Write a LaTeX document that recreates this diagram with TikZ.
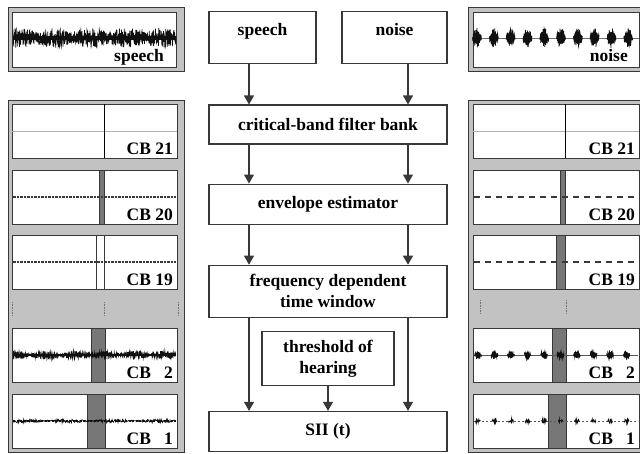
\documentclass[tikz,border=0pt]{standalone}
\usepackage{fontspec}
\setmainfont{Liberation Serif}
\usepackage{tikz}
\usetikzlibrary{arrows.meta,positioning}
\definecolor{edge}{HTML}{383838}
\definecolor{panelgray}{HTML}{C2C2C2}
\definecolor{winfill}{HTML}{777777}
\definecolor{trace}{HTML}{101010}
\tikzset{block/.style={draw=edge,line width=1.1pt,fill=white,inner sep=0pt,align=center,font=\fontsize{17.5}{21}\selectfont\bfseries},
  toplab/.style={anchor=north,inner sep=0pt,yshift=-12pt,font=\fontsize{17.5}{21}\selectfont\bfseries},
  arr/.style={-{Triangle[length=9pt,width=10pt]},line width=1.1pt,draw=edge},
  frame/.style={fill=panelgray,draw=edge,line width=0.8pt},
  panel/.style={fill=white,draw=edge,line width=0.8pt},
  winbar/.style={fill=winfill,draw=edge,line width=0.6pt},
  cblab/.style={anchor=base east,inner sep=0pt,font=\fontsize{17.5}{21}\selectfont\bfseries},
  wave/.style={trace,line width=0.7pt},
  gap/.style={edge!70,line width=0.6pt,dash pattern=on 0.8pt off 0.8pt}}

\begin{document}
\begin{tikzpicture}[x=1pt,y=-1pt]
\useasboundingbox (0,0) rectangle (640,453);
\pgfmathsetseed{4711}
% signal frames
\foreach \ox in {8,468} {
  \draw[frame] (\ox,7) rectangle ++(176,64);
  \draw[frame] (\ox,100) rectangle ++(176,352);
}
\draw[panel] (12,12) rectangle (176,67);
\draw[panel] (473,12) rectangle (639,67);
% top left: speech
\draw[wave] plot[domain=13:176,samples=700] (\x,{38+(6+4*abs(sin(\x*5)))*rand});
\draw[trace,line width=4pt] (13,38) -- (176,38);
\node[cblab] (speechlab) at (164,61) {speech};
% top right: noise
\draw[trace!60,line width=0.5pt] (473,38) -- (639,38);
\foreach \c in {477,493.8,...,630} {
  \draw[wave] plot[domain=\c-4.5:\c+4.5,samples=60] (\x,{38+10*(1-((\x-\c)/5)^2)*rand});
  \fill[trace] (\c,38) ellipse (3.5pt and 6pt);
}
\node[cblab] (noiselab) at (628,61) {noise};
% critical band panels, left (speech) and right (noise)
\foreach \top/\lbar/\rbar/\cb in {104/104/565/21,170/99/560/20,235/96/556/19,328/91/552/2,394/87/548/1} {
  \draw[panel] (12,\top) rectangle (177,\top+54);
  \draw[panel] (473,\top) rectangle (639,\top+54);
  \ifnum\cb=1\relax \def\cbtxt{CB \phantom{2}1}\else\ifnum\cb=2\relax \def\cbtxt{CB \phantom{2}2}\else \def\cbtxt{CB \cb}\fi\fi
  \node[cblab] at (173,\top+50) {\cbtxt};
  \node[cblab] at (635,\top+50) {\cbtxt};
}
% CB 21
\draw[gray!60,line width=0.6pt] (12,131) -- (177,131) (473,131) -- (639,131);
\draw[black,line width=1pt] (104,104) -- (104,158) (565,104) -- (565,158);
% CB 20 and CB 19
\draw[winbar] (99,170) rectangle (104,224);
\draw[winbar] (560,170) rectangle (565,224);
\draw[panel,line width=0.7pt] (96,235) rectangle (104,289);
\draw[winbar] (556,235) rectangle (565,289);
\foreach \cy in {197,262} {
  \draw[edge,line width=1.1pt,dash pattern=on 2.5pt off 1pt] (13,\cy) -- (176,\cy);
  \draw[edge,line width=1.2pt,dash pattern=on 6pt off 5pt] (474,\cy) -- (638,\cy);
}
% band gap
\foreach \gx/\gy in {12/302,104/302,178/302,480/300,566/300} {
  \draw[gap] (\gx,\gy) -- ++(0,13);
}
% CB 2
\draw[winbar] (91,328) rectangle (105,382);
\draw[winbar] (552,328) rectangle (566,382);
\draw[trace,line width=1.3pt] (13,355) -- (176,355);
\draw[wave] plot[domain=13:176,samples=600] (\x,{355+(1+3.5*abs(sin(\x*6)))*rand});
\draw[trace!70,line width=0.6pt] (474,355) -- (638,355);
\foreach \c in {478,494.5,...,636} {
  \draw[wave] plot[domain=\c-3.5:\c+3.5,samples=30] (\x,{355+5*(1-((\x-\c)/4)^2)*rand});
  \fill[trace] (\c,355) ellipse (2.5pt and 3pt);
}
% CB 1
\draw[winbar] (87,394) rectangle (105,448);
\draw[winbar] (548,394) rectangle (566,448);
\draw[trace,line width=1.4pt,dash pattern=on 2pt off 1.5pt] (13,421) -- (176,421);
\draw[wave] plot[domain=13:176,samples=330] (\x,{421+(0.5+1.5*abs(sin(\x*4)))*rand});
\draw[trace!70,line width=0.6pt,dash pattern=on 2pt off 2pt] (474,421) -- (638,421);
\foreach \c in {478,494.5,...,636} {
  \draw[wave] plot[domain=\c-2.5:\c+2.5,samples=16] (\x,{421+2.5*(1-((\x-\c)/3)^2)*rand});
}
% processing chain
\node[block,minimum width=238pt,minimum height=39pt] (filter) at (328,124.5) {critical-band filter bank};
\node[block,minimum width=107pt,minimum height=52pt,above=40pt of filter.north west,anchor=south west,label={[toplab]north:speech}] (speech) {};
\node[block,minimum width=105pt,minimum height=52pt,above=40pt of filter.north east,anchor=south east,label={[toplab]north:noise}] (noise) {};
\node[block,minimum width=238pt,minimum height=40pt,below=39pt of filter] (envelope) {envelope estimator};
\node[block,minimum width=238pt,minimum height=52pt,below=40pt of envelope] (window) {frequency dependent\\time window};
\node[block,minimum width=132pt,minimum height=54pt,below=13pt of window] (threshold) {threshold of\\hearing};
\node[block,minimum width=238pt,minimum height=40pt,below=25pt of threshold] (sii) {SII (t)};
\coordinate (colL) at (249,0);
\coordinate (colR) at (408,0);
\draw[arr] (speech.south -| colL) -- (filter.north -| colL);
\draw[arr] (noise.south -| colR) -- (filter.north -| colR);
\draw[arr] (filter.south -| colL) -- (envelope.north -| colL);
\draw[arr] (filter.south -| colR) -- (envelope.north -| colR);
\draw[arr] (envelope.south -| colL) -- (window.north -| colL);
\draw[arr] (envelope.south -| colR) -- (window.north -| colR);
\draw[arr] (window.south -| colL) -- (sii.north -| colL);
\draw[arr] (window.south -| colR) -- (sii.north -| colR);
\draw[arr] (threshold) -- (sii);
\end{tikzpicture}
\end{document}
